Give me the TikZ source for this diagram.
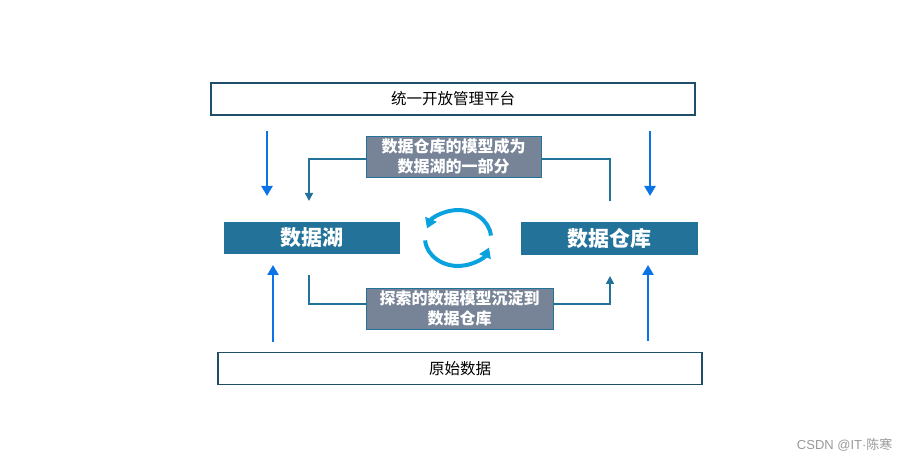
\documentclass[tikz,border=0pt]{standalone}
\usepackage{fontspec}
\setmainfont{Noto Sans CJK SC}
\newfontfamily\latinfont{Liberation Sans}
\usetikzlibrary{arrows.meta}
\definecolor{teal1}{HTML}{23729A}
\definecolor{edge1}{HTML}{1F4E68}
\definecolor{note1}{HTML}{778497}
\definecolor{blue1}{HTML}{0A74E6}
\definecolor{cyc}{HTML}{0AA2DE}
\tikzset{
  platebox/.style={draw=edge1, line width=1.3pt, minimum height=32pt, inner sep=0pt,
    font=\fontsize{15.5}{17}\selectfont},
  mainbox/.style={fill=teal1, text=white, inner sep=0pt, minimum width=176pt,
    minimum height=32pt, font=\fontsize{21}{23}\selectfont\bfseries},
  notebox/.style={fill=note1, draw=teal1, line width=0.8pt, text=white, align=center,
    inner sep=0pt, minimum height=41pt, font=\fontsize{16}{19.5}\selectfont\bfseries},
  feed/.style={blue1, line width=2.8pt, -{Triangle[width=11pt,length=10pt]}},
  link/.style={teal1, line width=1.6pt, -{Triangle[width=8pt,length=8pt]}},
}
\begin{document}
\begin{tikzpicture}[x=1pt, y=-1pt]
    \useasboundingbox (0,0) rectangle (905,462);
    % 平台与原始数据
    \node[platebox, minimum width=484pt] (top) at (453,99) {统一开放管理平台};
    \node[platebox, minimum width=484pt] (bottom) at (460,368.5) {原始数据};
    % 两个主体
    \node[mainbox] (lake) at (312,238) {数据湖};
    \node[mainbox, minimum width=177pt, minimum height=33pt] (wh) at (609.5,238.5) {数据仓库};
    % 蓝色箭头
    \coordinate (lt) at (267,131);  \coordinate (lb) at (273,342);
    \coordinate (rt) at (650,131);  \coordinate (rb) at (648,341);
    \draw[feed] (lt) -- (lt |- 0,196);
    \draw[feed] (rt) -- (rt |- 0,196);
    \draw[feed] (lb) -- (lb |- 0,265);
    \draw[feed] (rb) -- (rb |- 0,265);
    % 互相转化的连线
    \coordinate (a1) at (610,201);  \coordinate (a2) at (309,201);
    \coordinate (b1) at (309,275);  \coordinate (b2) at (610,276);
    \draw[link] (a1) -- (a1 |- 0,159) -- (a2 |- 0,159) -- (a2);
    \draw[link] (b1) -- (b1 |- 0,304) -- (b2 |- 0,304) -- (b2);
    \node[notebox, minimum width=175pt] (n1) at (453.5,156.5) {数据仓库的模型成为\\数据湖的一部分};
    \node[notebox, minimum width=187pt] (n2) at (459.5,308.5) {探索的数据模型沉淀到\\数据仓库};
    % 循环
    \draw[cyc, line width=4pt, -{Triangle[width=12pt,length=10pt]}]
        (490.9,235.6) arc[start angle=5, end angle=160, x radius=33pt, y radius=28pt];
    \draw[cyc, line width=4pt, -{Triangle[width=12pt,length=10pt]}]
        (425.1,240.4) arc[start angle=185, end angle=340, x radius=33pt, y radius=28pt];
    \node[anchor=east, text=black!40, font=\fontsize{13}{15}\selectfont] (mark) at (896,445) {{\latinfont CSDN @IT·}陈寒};
\end{tikzpicture}
\end{document}
